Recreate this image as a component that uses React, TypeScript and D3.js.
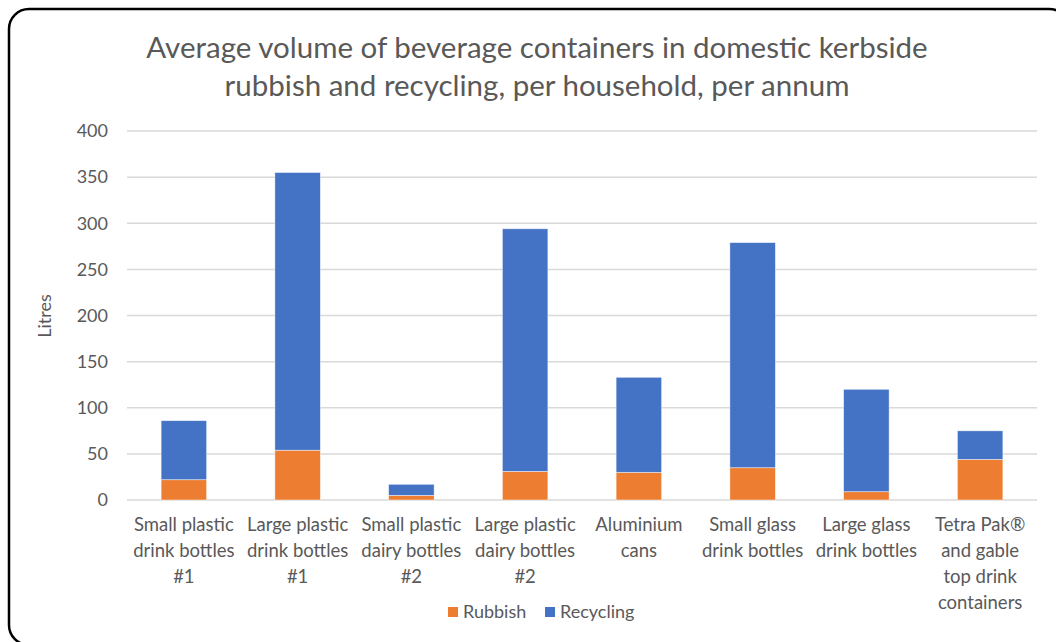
import React from "react";
import { scaleBand, scaleLinear, stack } from "d3";

const categories = [
  ["Small plastic", "drink bottles", "#1"],
  ["Large plastic", "drink bottles", "#1"],
  ["Small plastic", "dairy bottles", "#2"],
  ["Large plastic", "dairy bottles", "#2"],
  ["Aluminium", "cans"],
  ["Small glass", "drink bottles"],
  ["Large glass", "drink bottles"],
  ["Tetra Pak®", "and gable", "top drink", "containers"],
];
const rubbish = [22, 54, 5, 31, 30, 35, 9, 44];
const recycling = [64, 301, 12, 263, 103, 244, 111, 31];
const yTicks = [0, 50, 100, 150, 200, 250, 300, 350, 400];

const seriesKeys = ["Rubbish", "Recycling"];
const colors: Record<string, string> = { Rubbish: "#ED7D31", Recycling: "#4472C4" };

const W = 1056;
const H = 642;
const margin = { left: 127, right: 19, top: 131, bottom: 142 };
const font = "Lato, 'Open Sans', sans-serif";
const textColor = "#595959";

export default function App() {
  const rows = categories.map((c, i) => ({ idx: String(i), Rubbish: rubbish[i], Recycling: recycling[i] }));
  const layers = stack<any>().keys(seriesKeys)(rows);

  const x = scaleBand()
    .domain(rows.map(r => r.idx))
    .range([margin.left, W - margin.right])
    .paddingInner(0.6)
    .paddingOuter(0.3);
  const y = scaleLinear().domain([0, 400]).range([H - margin.bottom, margin.top]);

  return (
    <div style={{ position: "absolute", left: 0, top: 0 }}>
      <svg width={W} height={H} style={{ display: "block", background: "#fff" }}>
        <rect x={9} y={9} width={1060} height={636} rx={20} fill="#fff" stroke="#000" strokeWidth={2.5} />

        <text x={537} y={58} textAnchor="middle" fontFamily={font} fontSize={29.5} fill={textColor}>
          Average volume of beverage containers in domestic kerbside
        </text>
        <text x={537} y={96} textAnchor="middle" fontFamily={font} fontSize={29.5} fill={textColor}>
          rubbish and recycling, per household, per annum
        </text>

        {/* grid + y labels */}
        {yTicks.map(t => (
          <g key={t}>
            <line x1={margin.left} x2={W - margin.right} y1={y(t)} y2={y(t)} stroke="#D9D9D9" strokeWidth={1.5} />
            <text x={108} y={y(t)} dy="0.35em" textAnchor="end" fontFamily={font} fontSize={18} fill={textColor}>
              {t}
            </text>
          </g>
        ))}
        <text transform="translate(51,316) rotate(-90)" textAnchor="middle" fontFamily={font} fontSize={18} fill={textColor}>
          Litres
        </text>

        {/* bars */}
        {layers.map(layer => (
          <g key={layer.key} fill={colors[layer.key]}>
            {layer.map((d: any) => (
              <rect
                key={d.data.idx}
                x={x(d.data.idx)}
                width={x.bandwidth()}
                y={y(d[1])}
                height={y(d[0]) - y(d[1])}
                stroke="#fff"
                strokeOpacity={0.6}
                strokeWidth={0.75}
              />
            ))}
          </g>
        ))}

        {/* x labels */}
        {categories.map((lines, i) => (
          <text
            key={i}
            x={(x(String(i)) as number) + x.bandwidth() / 2}
            textAnchor="middle"
            fontFamily={font}
            fontSize={18.5}
            fill={textColor}
          >
            {lines.map((l, j) => (
              <tspan key={j} x={(x(String(i)) as number) + x.bandwidth() / 2} y={531 + j * 26}>
                {l}
              </tspan>
            ))}
          </text>
        ))}

        {/* legend */}
        {seriesKeys.map((k, i) => {
          const lx = [448, 545][i];
          return (
            <g key={k}>
              <rect x={lx} y={607} width={10} height={10} fill={colors[k]} />
              <text x={lx + 15} y={612} dy="0.35em" fontFamily={font} fontSize={18} fill={textColor}>
                {k}
              </text>
            </g>
          );
        })}
      </svg>
    </div>
  );
}
